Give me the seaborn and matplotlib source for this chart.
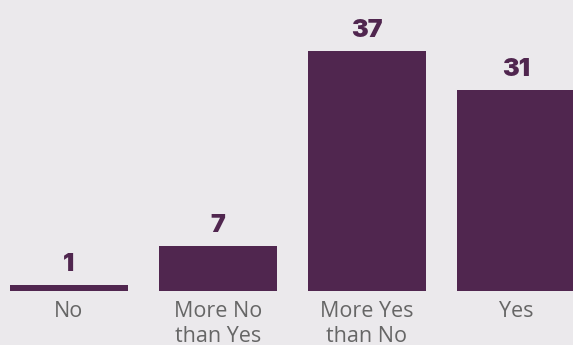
import matplotlib
matplotlib.use("Agg")
import matplotlib.pyplot as plt
import seaborn as sns
import pandas as pd

# Survey answers and counts
categories = ["No", "More No\nthan Yes", "More Yes\nthan No", "Yes"]
counts = [1, 7, 37, 31]

bar_color = "#50264f"
bg_color = "#ebe9ec"
label_color = "#666666"

sns.set_theme(style="white")
plt.rcParams["font.family"] = ["Open Sans", "DejaVu Sans"]

df = pd.DataFrame({"answer": categories, "count": counts})

fig = plt.figure(figsize=(5.73, 3.45), dpi=100, facecolor=bg_color)
ax = fig.add_axes([0, 54 / 345, 1, 291 / 345])
ax.set_facecolor(bg_color)

sns.barplot(data=df, x="answer", y="count", color=bar_color, width=0.79,
            saturation=1, linewidth=0, ax=ax)

ax.set_xlim(-0.463, 3.383)
ax.set_ylim(0, 44.77)
ax.set_xlabel("")
ax.set_ylabel("")
ax.set_yticks([])
ax.tick_params(axis="x", length=0, pad=7, labelsize=15.5, colors=label_color)
for lbl in ax.get_xticklabels():
    lbl.set_linespacing(1.25)
for s in ax.spines.values():
    s.set_visible(False)

for container in ax.containers:
    ax.bar_label(container, labels=[str(v) for v in counts], padding=6,
                 fontsize=18, fontweight="black", color=bar_color,
                 fontfamily=["Inter", "DejaVu Sans"])

fig.savefig("out.png", dpi=100, facecolor=bg_color)
